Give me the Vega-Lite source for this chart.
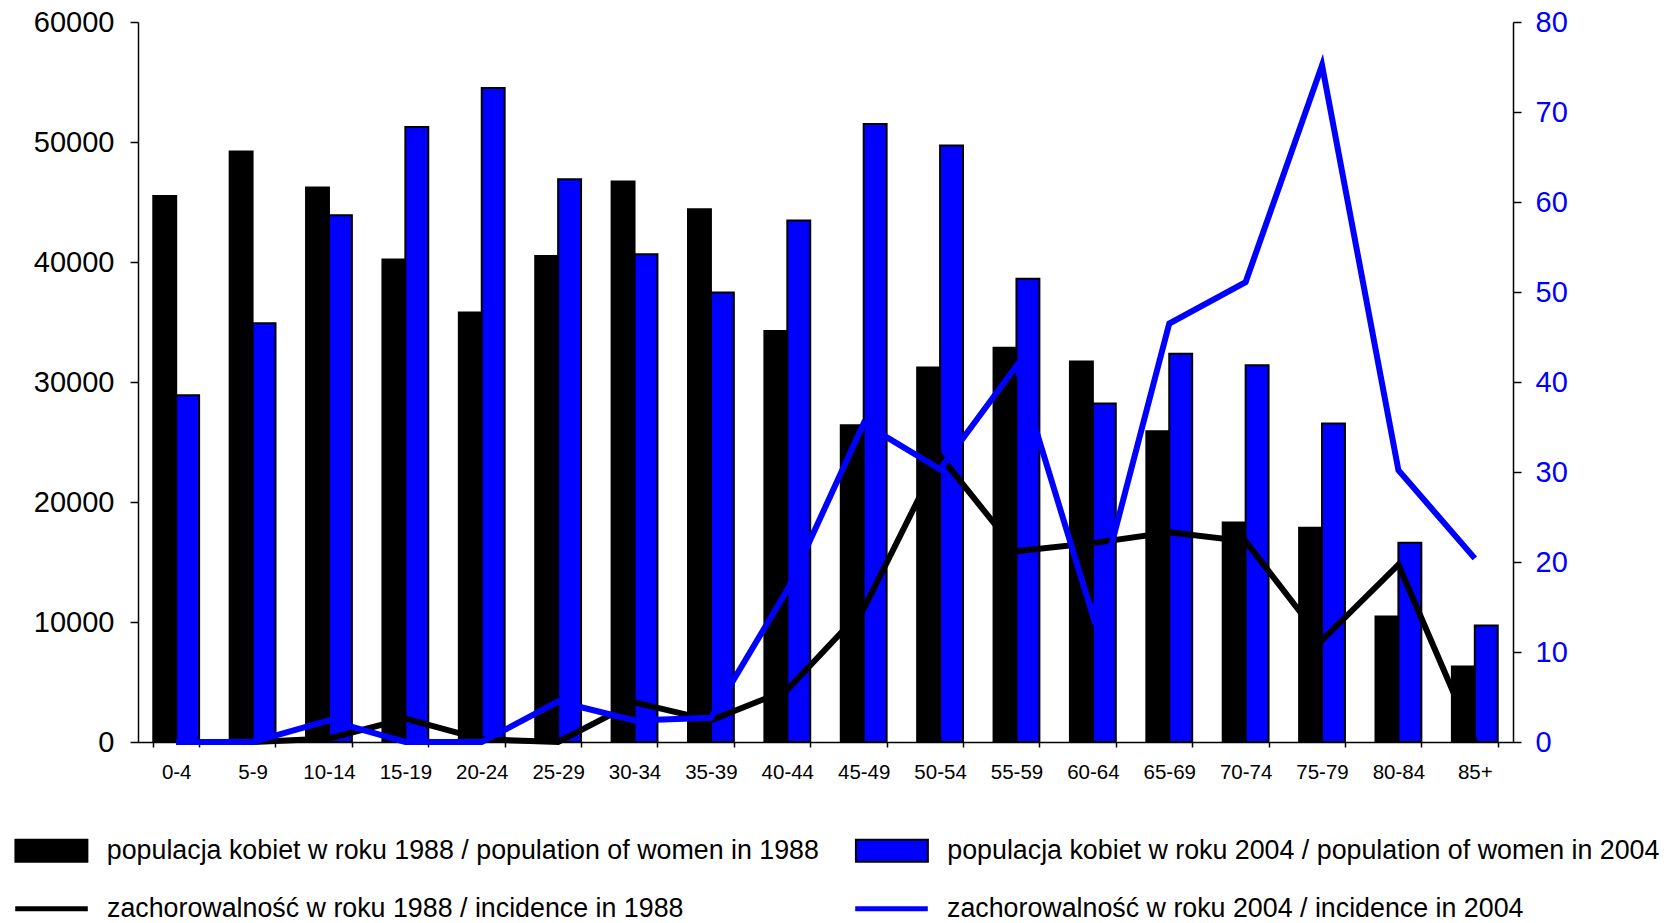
{
  "$schema": "https://vega.github.io/schema/vega-lite/v6.json",
  "width": 1375,
  "height": 720,
  "autosize": "none",
  "padding": {"left": 138, "top": 22, "right": 151, "bottom": 181},
  "background": "white",
  "config": {"view": {"stroke": null}, "font": "Liberation Sans"},
  "data": {"values": [
    {"age": "0-4", "year": "1988", "population": 45500, "incidence": 0},
    {"age": "0-4", "year": "2004", "population": 28900, "incidence": 0},
    {"age": "5-9", "year": "1988", "population": 49200, "incidence": 0},
    {"age": "5-9", "year": "2004", "population": 34900, "incidence": 0},
    {"age": "10-14", "year": "1988", "population": 46200, "incidence": 0.4},
    {"age": "10-14", "year": "2004", "population": 43900, "incidence": 2.4},
    {"age": "15-19", "year": "1988", "population": 40200, "incidence": 2.6},
    {"age": "15-19", "year": "2004", "population": 51250, "incidence": 0},
    {"age": "20-24", "year": "1988", "population": 35800, "incidence": 0.3},
    {"age": "20-24", "year": "2004", "population": 54500, "incidence": 0},
    {"age": "25-29", "year": "1988", "population": 40500, "incidence": 0},
    {"age": "25-29", "year": "2004", "population": 46900, "incidence": 4.5},
    {"age": "30-34", "year": "1988", "population": 46700, "incidence": 4.4},
    {"age": "30-34", "year": "2004", "population": 40650, "incidence": 2.4},
    {"age": "35-39", "year": "1988", "population": 44400, "incidence": 2.4},
    {"age": "35-39", "year": "2004", "population": 37450, "incidence": 2.7},
    {"age": "40-44", "year": "1988", "population": 34250, "incidence": 5.8},
    {"age": "40-44", "year": "2004", "population": 43450, "incidence": 16.9},
    {"age": "45-49", "year": "1988", "population": 26400, "incidence": 14.8},
    {"age": "45-49", "year": "2004", "population": 51500, "incidence": 35.4},
    {"age": "50-54", "year": "1988", "population": 31200, "incidence": 31.8},
    {"age": "50-54", "year": "2004", "population": 49700, "incidence": 30.3},
    {"age": "55-59", "year": "1988", "population": 32850, "incidence": 21.2},
    {"age": "55-59", "year": "2004", "population": 38600, "incidence": 41.8},
    {"age": "60-64", "year": "1988", "population": 31700, "incidence": 22.1},
    {"age": "60-64", "year": "2004", "population": 28200, "incidence": 14},
    {"age": "65-69", "year": "1988", "population": 25900, "incidence": 23.3},
    {"age": "65-69", "year": "2004", "population": 32350, "incidence": 46.5},
    {"age": "70-74", "year": "1988", "population": 18300, "incidence": 22.3},
    {"age": "70-74", "year": "2004", "population": 31400, "incidence": 51.1},
    {"age": "75-79", "year": "1988", "population": 17850, "incidence": 11.3},
    {"age": "75-79", "year": "2004", "population": 26550, "incidence": 75.2},
    {"age": "80-84", "year": "1988", "population": 10450, "incidence": 19.7},
    {"age": "80-84", "year": "2004", "population": 16600, "incidence": 30.2},
    {"age": "85+", "year": "1988", "population": 6300, "incidence": 0},
    {"age": "85+", "year": "2004", "population": 9700, "incidence": 20.4}
  ]},
  "layer": [
    {
      "mark": {"type": "bar", "stroke": "black", "strokeWidth": 2, "opacity": 1},
      "encoding": {
        "x": {
          "field": "age", "type": "nominal", "sort": null,
          "scale": {"type": "band", "paddingInner": 0.4, "paddingOuter": 0.2},
          "axis": {
            "title": null, "labelAngle": 0, "tickBand": "extent",
            "labelFont": "Liberation Sans", "labelFontSize": 20.5, "labelColor": "black",
            "tickSize": 5, "labelPadding": 15, "domainColor": "black", "tickColor": "black",
            "domainWidth": 1.5, "tickWidth": 1.5
          }
        },
        "xOffset": {"field": "year", "type": "nominal", "scale": {"domain": ["1988", "2004"], "paddingInner": 0, "paddingOuter": 0}},
        "y": {
          "field": "population", "type": "quantitative",
          "scale": {"domain": [0, 60000], "nice": false},
          "axis": {
            "title": null, "values": [0, 10000, 20000, 30000, 40000, 50000, 60000], "format": "d",
            "grid": false, "labelFont": "Liberation Sans", "labelFontSize": 29, "labelColor": "black",
            "tickSize": 8, "labelPadding": 16, "domainColor": "black", "tickColor": "black",
            "domainWidth": 1.5, "tickWidth": 1.5
          }
        },
        "fill": {
          "field": "year", "type": "nominal",
          "scale": {"domain": ["1988", "2004"], "range": ["#000000", "#0000ff"]},
          "legend": {
            "title": null, "orient": "none", "legendX": -100, "legendY": 815,
            "direction": "horizontal", "columns": 2, "padding": 0,
            "symbolType": "M-3.27,-1H3.27V1H-3.27Z", "symbolSize": 484,
            "symbolStrokeColor": "black", "symbolStrokeWidth": 2, "symbolOpacity": 1,
            "labelFont": "Liberation Sans", "labelFontSize": 26.8, "labelColor": "black",
            "labelOffset": 42, "columnPadding": 32.5, "labelLimit": 2000,
            "labelExpr": "datum.value == '1988' ? 'populacja kobiet w roku 1988 / population of women in 1988' : 'populacja kobiet w roku 2004 / population of women in 2004'"
          }
        }
      }
    },
    {
      "mark": {"type": "line", "strokeWidth": 6, "strokeJoin": "miter"},
      "encoding": {
        "x": {"field": "age", "type": "nominal", "sort": null},
        "y": {
          "field": "incidence", "type": "quantitative",
          "scale": {"domain": [0, 80], "nice": false},
          "axis": {
            "title": null, "orient": "right", "values": [0, 10, 20, 30, 40, 50, 60, 70, 80],
            "grid": false, "labelFont": "Liberation Sans", "labelFontSize": 29, "labelColor": "#0000ff",
            "tickSize": 8, "labelPadding": 14, "domainColor": "black", "tickColor": "black",
            "domainWidth": 1.5, "tickWidth": 1.5
          }
        },
        "stroke": {
          "field": "year", "type": "nominal",
          "scale": {"range": ["#000000", "#0000ff"]},
          "legend": {
            "title": null, "orient": "none", "legendX": -100, "legendY": 873,
            "direction": "horizontal", "columns": 2, "padding": 0,
            "symbolType": "M-3.3,0H3.3", "symbolSize": 484,
            "symbolStrokeWidth": 5, "symbolOpacity": 1,
            "labelFont": "Liberation Sans", "labelFontSize": 26.8, "labelColor": "black",
            "labelOffset": 42, "columnPadding": 161, "labelLimit": 2000,
            "labelExpr": "datum.value == '1988' ? 'zachorowalność w roku 1988 / incidence in 1988' : 'zachorowalność w roku 2004 / incidence in 2004'"
          }
        }
      }
    }
  ],
  "resolve": {"scale": {"y": "independent"}}
}
